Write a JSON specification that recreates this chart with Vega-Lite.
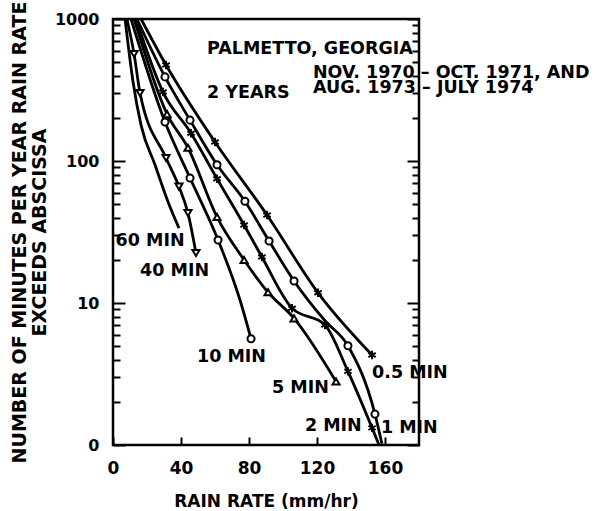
{
  "$schema": "https://vega.github.io/schema/vega-lite/v6.json",
  "width": 306,
  "height": 426,
  "autosize": {"type": "none"},
  "padding": {"left": 113, "top": 19, "right": 181, "bottom": 66},
  "background": "white",
  "config": {
    "view": {"stroke": "black", "strokeWidth": 2.5},
    "font": "DejaVu Sans",
    "axis": {
      "domain": false,
      "grid": false,
      "tickColor": "black",
      "tickWidth": 2,
      "labelColor": "black",
      "labelFont": "DejaVu Sans",
      "labelFontWeight": "bold",
      "labelFontSize": 16,
      "labelOverlap": false,
      "labelFlush": false,
      "titleColor": "black",
      "titleFont": "DejaVu Sans",
      "titleFontWeight": "bold"
    }
  },
  "datasets": {
    "curves": [
      {"series": "0.5 MIN", "rate": 16.5, "minutes": 1000, "marker": false},
      {"series": "0.5 MIN", "rate": 31.2, "minutes": 474, "marker": true},
      {"series": "0.5 MIN", "rate": 60, "minutes": 136, "marker": true},
      {"series": "0.5 MIN", "rate": 90.6, "minutes": 41.7, "marker": true},
      {"series": "0.5 MIN", "rate": 120.6, "minutes": 11.8, "marker": true},
      {"series": "0.5 MIN", "rate": 152.4, "minutes": 4.3, "marker": true},

      {"series": "1 MIN", "rate": 14.1, "minutes": 1000, "marker": false},
      {"series": "1 MIN", "rate": 30.6, "minutes": 391, "marker": true},
      {"series": "1 MIN", "rate": 45.3, "minutes": 194, "marker": true},
      {"series": "1 MIN", "rate": 61.2, "minutes": 94, "marker": true},
      {"series": "1 MIN", "rate": 77.6, "minutes": 52, "marker": true},
      {"series": "1 MIN", "rate": 91.8, "minutes": 27.3, "marker": true},
      {"series": "1 MIN", "rate": 106.5, "minutes": 14.3, "marker": true},
      {"series": "1 MIN", "rate": 124.7, "minutes": 7.5, "marker": false},
      {"series": "1 MIN", "rate": 138.2, "minutes": 5.0, "marker": true},
      {"series": "1 MIN", "rate": 154.1, "minutes": 1.65, "marker": true},
      {"series": "1 MIN", "rate": 158.2, "minutes": 1.02, "marker": false},

      {"series": "2 MIN", "rate": 13.5, "minutes": 1000, "marker": false},
      {"series": "2 MIN", "rate": 29.4, "minutes": 306, "marker": true},
      {"series": "2 MIN", "rate": 45.9, "minutes": 157, "marker": true},
      {"series": "2 MIN", "rate": 61.2, "minutes": 75, "marker": true},
      {"series": "2 MIN", "rate": 77.1, "minutes": 35.4, "marker": true},
      {"series": "2 MIN", "rate": 87.6, "minutes": 21.1, "marker": true},
      {"series": "2 MIN", "rate": 105.3, "minutes": 9.2, "marker": true},
      {"series": "2 MIN", "rate": 124.7, "minutes": 7.0, "marker": true},
      {"series": "2 MIN", "rate": 138.2, "minutes": 3.3, "marker": true},
      {"series": "2 MIN", "rate": 152.4, "minutes": 1.32, "marker": true},
      {"series": "2 MIN", "rate": 156.5, "minutes": 1.0, "marker": false},

      {"series": "5 MIN", "rate": 12.4, "minutes": 1000, "marker": false},
      {"series": "5 MIN", "rate": 31.8, "minutes": 214, "marker": true},
      {"series": "5 MIN", "rate": 44.1, "minutes": 124, "marker": true},
      {"series": "5 MIN", "rate": 61.2, "minutes": 40.3, "marker": true},
      {"series": "5 MIN", "rate": 77.1, "minutes": 20.1, "marker": true},
      {"series": "5 MIN", "rate": 91.2, "minutes": 11.9, "marker": true},
      {"series": "5 MIN", "rate": 106.5, "minutes": 7.8, "marker": true},
      {"series": "5 MIN", "rate": 131.2, "minutes": 2.8, "marker": true},

      {"series": "10 MIN", "rate": 10.6, "minutes": 1000, "marker": false},
      {"series": "10 MIN", "rate": 30.6, "minutes": 188, "marker": true},
      {"series": "10 MIN", "rate": 45.3, "minutes": 76, "marker": true},
      {"series": "10 MIN", "rate": 61.8, "minutes": 27.8, "marker": true},
      {"series": "10 MIN", "rate": 74.7, "minutes": 10.5, "marker": false},
      {"series": "10 MIN", "rate": 81.2, "minutes": 5.6, "marker": true},

      {"series": "40 MIN", "rate": 8.2, "minutes": 1000, "marker": false},
      {"series": "40 MIN", "rate": 12.4, "minutes": 567, "marker": true},
      {"series": "40 MIN", "rate": 15.9, "minutes": 301, "marker": true},
      {"series": "40 MIN", "rate": 31.2, "minutes": 105, "marker": true},
      {"series": "40 MIN", "rate": 38.8, "minutes": 66, "marker": true},
      {"series": "40 MIN", "rate": 44.1, "minutes": 43, "marker": true},
      {"series": "40 MIN", "rate": 48.8, "minutes": 22.5, "marker": true},

      {"series": "60 MIN", "rate": 7.1, "minutes": 1000, "marker": false},
      {"series": "60 MIN", "rate": 11.8, "minutes": 360, "marker": false},
      {"series": "60 MIN", "rate": 16.5, "minutes": 179, "marker": false},
      {"series": "60 MIN", "rate": 24.7, "minutes": 94, "marker": false},
      {"series": "60 MIN", "rate": 32.4, "minutes": 51.4, "marker": false},
      {"series": "60 MIN", "rate": 38.8, "minutes": 33.7, "marker": false}
    ],
    "labels": [
      {"text": "PALMETTO, GEORGIA", "rate": 55.3, "minutes": 615},
      {"text": "2 YEARS", "rate": 55.3, "minutes": 301},
      {"text": "NOV. 1970 – OCT. 1971, AND", "rate": 117.6, "minutes": 417},
      {"text": "AUG. 1973 – JULY 1974", "rate": 117.6, "minutes": 327},
      {"text": "60 MIN", "rate": 1.5, "minutes": 27.3},
      {"text": "40 MIN", "rate": 15.9, "minutes": 16.8},
      {"text": "10 MIN", "rate": 49.4, "minutes": 4.17},
      {"text": "5 MIN", "rate": 93.5, "minutes": 2.52},
      {"text": "2 MIN", "rate": 112.9, "minutes": 1.36},
      {"text": "1 MIN", "rate": 157.6, "minutes": 1.32},
      {"text": "0.5 MIN", "rate": 152.4, "minutes": 3.21}
    ]
  },
  "layer": [
    {
      "data": {"name": "curves"},
      "mark": {"type": "line", "interpolate": "monotone", "color": "black", "strokeWidth": 2.8},
      "encoding": {
        "x": {
          "field": "rate", "type": "quantitative",
          "scale": {"domain": [0, 180], "nice": false, "zero": false},
          "axis": {
            "orient": "bottom",
            "values": [0, 20, 40, 60, 80, 100, 120, 140, 160, 180],
            "tickSize": -8,
            "labelPadding": 23,
            "labelFontSize": 17,
            "labelExpr": "(datum.value % 40 == 0 && datum.value < 170) ? ('' + datum.value) : ''",
            "title": "RAIN RATE (mm/hr)",
            "titleFontSize": 17,
            "titlePadding": 17
          }
        },
        "y": {
          "field": "minutes", "type": "quantitative",
          "scale": {"type": "log", "domain": [1, 1000], "nice": false},
          "axis": {
            "orient": "left",
            "values": [1, 2, 3, 4, 5, 6, 7, 8, 9, 10, 20, 30, 40, 50, 60, 70, 80, 90, 100, 200, 300, 400, 500, 600, 700, 800, 900, 1000],
            "tickSize": {"condition": {"test": "datum.value == 1 || datum.value == 10 || datum.value == 100 || datum.value == 1000", "value": -12}, "value": -7},
            "labelPadding": 26,
            "labelExpr": "(datum.value == 1) ? '0' : ((datum.value == 10 || datum.value == 100 || datum.value == 1000) ? ('' + datum.value) : '')",
            "title": ["NUMBER OF MINUTES PER YEAR RAIN RATE", "EXCEEDS ABSCISSA"],
            "titleFontSize": 19,
            "titleLineHeight": 20,
            "titlePadding": 5
          }
        },
        "detail": {"field": "series", "type": "nominal"}
      }
    },
    {
      "data": {"name": "curves"},
      "transform": [{"filter": "datum.marker"}],
      "mark": {"type": "point", "fill": "white", "stroke": "black", "strokeWidth": 2, "opacity": 1, "size": 50},
      "encoding": {
        "x": {"field": "rate", "type": "quantitative", "scale": {"domain": [0, 180], "nice": false, "zero": false}},
        "y": {
          "field": "minutes", "type": "quantitative",
          "scale": {"type": "log", "domain": [1, 1000], "nice": false},
          "axis": {
            "orient": "right",
            "values": [1, 2, 3, 4, 5, 6, 7, 8, 9, 10, 20, 30, 40, 50, 60, 70, 80, 90, 100, 200, 300, 400, 500, 600, 700, 800, 900, 1000],
            "tickSize": {"condition": {"test": "datum.value == 1 || datum.value == 10 || datum.value == 100 || datum.value == 1000", "value": -12}, "value": -7},
            "labels": false,
            "title": null
          }
        },
        "shape": {
          "field": "series", "type": "nominal", "legend": null,
          "scale": {
            "domain": ["0.5 MIN", "1 MIN", "2 MIN", "5 MIN", "10 MIN", "40 MIN"],
            "range": [
              "M0,-1.2L0,1.2M-1.04,-0.6L1.04,0.6M-1.04,0.6L1.04,-0.6",
              "circle",
              "M0,-1.2L0,1.2M-1.04,-0.6L1.04,0.6M-1.04,0.6L1.04,-0.6",
              "triangle-up",
              "circle",
              "triangle-down"
            ]
          }
        }
      }
    },
    {
      "data": {"name": "labels"},
      "mark": {"type": "text", "align": "left", "baseline": "middle", "font": "DejaVu Sans", "fontWeight": "bold", "fontSize": 17.5, "color": "black"},
      "encoding": {
        "x": {"field": "rate", "type": "quantitative", "scale": {"domain": [0, 180], "nice": false, "zero": false}},
        "y": {"field": "minutes", "type": "quantitative", "scale": {"type": "log", "domain": [1, 1000], "nice": false}, "axis": null},
        "text": {"field": "text", "type": "nominal"}
      }
    }
  ],
  "resolve": {"axis": {"y": "independent"}}
}
